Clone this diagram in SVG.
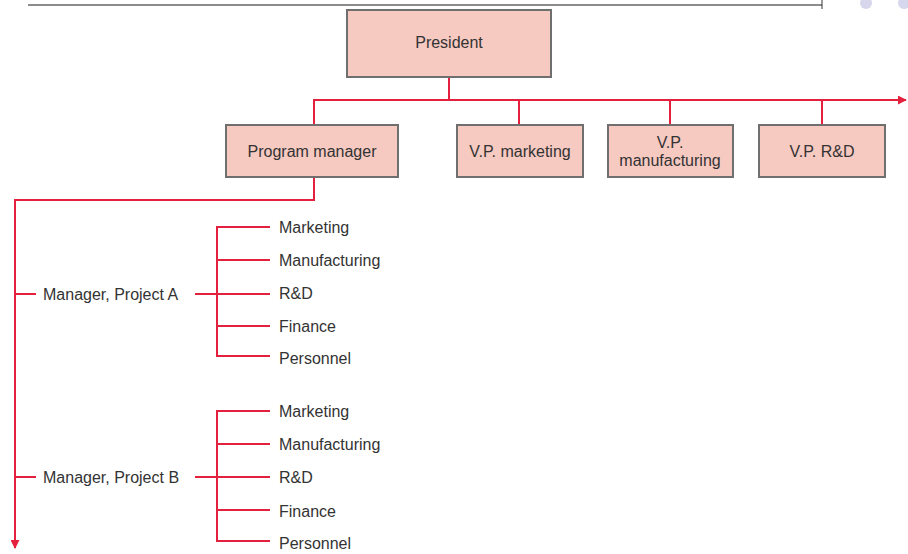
<svg xmlns="http://www.w3.org/2000/svg" width="908" height="554" viewBox="0 0 908 554">
<defs>
<style>
.box{fill:#f6c9c1;stroke:#6f6f6f;stroke-width:2}
.t{font-family:"Liberation Sans Narrow","Liberation Sans",Arial,sans-serif;font-size:16px;fill:#333}
.c{text-anchor:middle}
.ln{stroke:#e3213f;stroke-width:2;fill:none}
</style>
<marker id="ah" viewBox="0 0 10 10" refX="9" refY="5" markerWidth="5" markerHeight="5" orient="auto" markerUnits="userSpaceOnUse">
<path d="M0,0 L10,5 L0,10 z" fill="#e3213f"/>
</marker>
<marker id="ah2" viewBox="0 0 10 10" refX="9" refY="5" markerWidth="9" markerHeight="9" orient="auto" markerUnits="userSpaceOnUse">
<path d="M0,0 L10,5 L0,10 z" fill="#e3213f"/>
</marker>
</defs>
<rect width="908" height="554" fill="#fff"/>
<g id="decor">
<line x1="28" y1="5" x2="822" y2="5" stroke="#666" stroke-width="1.5"/>
<line x1="822" y1="0" x2="822" y2="9" stroke="#333" stroke-width="1"/>
<circle cx="866" cy="3" r="6" fill="#d6d6ec"/>
<circle cx="904" cy="3" r="6" fill="#d6d6ec"/>
</g>
<g id="connectors">
<line class="ln" x1="449" y1="77" x2="449" y2="100"/>
<line class="ln" x1="313" y1="100" x2="906" y2="100" marker-end="url(#ah2)"/>
<line class="ln" x1="314" y1="100" x2="314" y2="125"/>
<line class="ln" x1="519" y1="100" x2="519" y2="125"/>
<line class="ln" x1="670" y1="100" x2="670" y2="125"/>
<line class="ln" x1="822" y1="100" x2="822" y2="125"/>
<polyline class="ln" points="314,177 314,200 15,200 15,548" marker-end="url(#ah2)"/>
<line class="ln" x1="15" y1="294" x2="36" y2="294"/>
<line class="ln" x1="195" y1="294" x2="270" y2="294"/>
<polyline class="ln" points="270,227 217,227 217,356 270,356"/>
<line class="ln" x1="217" y1="260" x2="270" y2="260"/>
<line class="ln" x1="217" y1="326" x2="270" y2="326"/>
<line class="ln" x1="15" y1="477" x2="36" y2="477"/>
<line class="ln" x1="195" y1="477" x2="270" y2="477"/>
<polyline class="ln" points="270,411 217,411 217,541 270,541"/>
<line class="ln" x1="217" y1="444" x2="270" y2="444"/>
<line class="ln" x1="217" y1="510" x2="270" y2="510"/>
</g>
<g id="president"><rect class="box" x="347" y="10" width="204" height="67"/><text class="t c" x="449" y="48">President</text></g>
<g id="program-manager"><rect class="box" x="226" y="125" width="172" height="52"/><text class="t c" x="312" y="157">Program manager</text></g>
<g id="vp-marketing"><rect class="box" x="457" y="125" width="126" height="52"/><text class="t c" x="520" y="157">V.P. marketing</text></g>
<g id="vp-manufacturing"><rect class="box" x="608" y="125" width="125" height="52"/><text class="t c" x="670" y="148">V.P.</text><text class="t c" x="670" y="166">manufacturing</text></g>
<g id="vp-rd"><rect class="box" x="759" y="125" width="126" height="52"/><text class="t c" x="822" y="157">V.P. R&amp;D</text></g>
<g id="manager-a"><text class="t" x="43" y="300">Manager, Project A</text></g>
<g id="a-items">
<text class="t" x="279" y="233">Marketing</text>
<text class="t" x="279" y="266">Manufacturing</text>
<text class="t" x="279" y="299">R&amp;D</text>
<text class="t" x="279" y="332">Finance</text>
<text class="t" x="279" y="364">Personnel</text>
</g>
<g id="manager-b"><text class="t" x="43" y="483">Manager, Project B</text></g>
<g id="b-items">
<text class="t" x="279" y="417">Marketing</text>
<text class="t" x="279" y="450">Manufacturing</text>
<text class="t" x="279" y="483">R&amp;D</text>
<text class="t" x="279" y="517">Finance</text>
<text class="t" x="279" y="549">Personnel</text>
</g>
</svg>
